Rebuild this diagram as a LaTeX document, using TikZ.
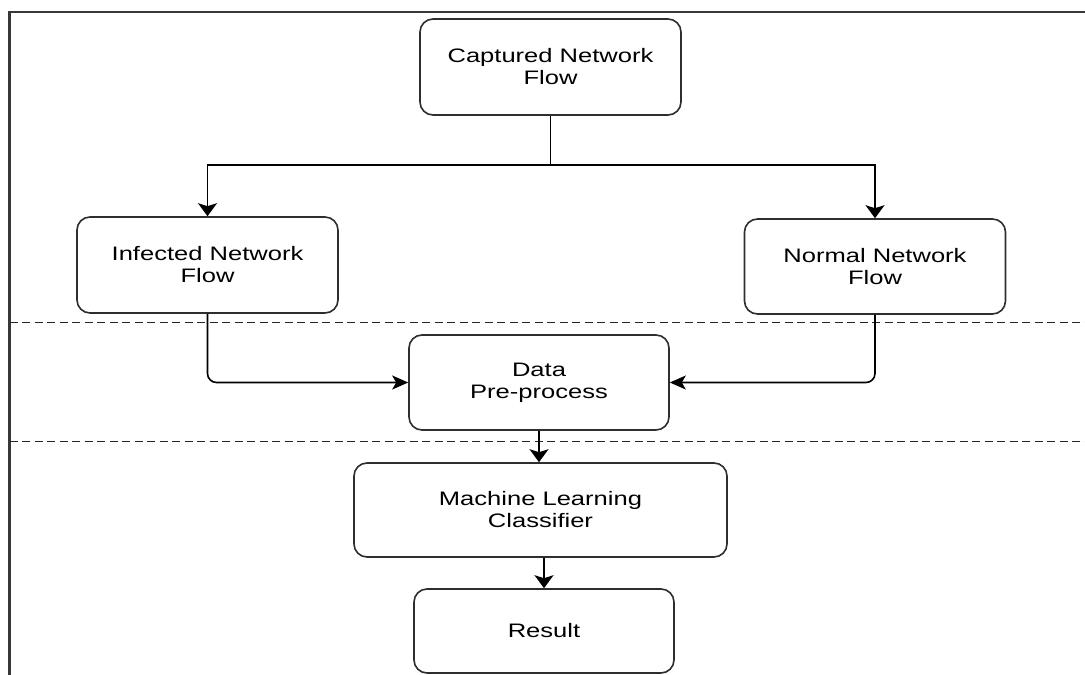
\documentclass[tikz,border=0pt]{standalone}
\usepackage{fontspec}
\setmainfont{Liberation Sans}[FakeStretch=1.31]
\usetikzlibrary{arrows.meta}

\tikzset{
  flowbox/.style={draw=black!82, line width=1.6pt, rounded corners=13pt,
    fill=white, text=black, align=center,
    font=\fontsize{19.5pt}{22pt}\selectfont, inner sep=0pt},
  link/.style={draw=black, line width=1.6pt},
  varr/.style={link, -{Stealth[length=13pt,width=19pt,inset=3pt]}},
  harr/.style={link, -{Stealth[length=16pt,width=14pt,inset=4pt]}},
  divider/.style={draw=black!85, line width=1.3pt, dash pattern=on 8pt off 4.5pt},
  frame/.style={draw=black!78, line width=2.5pt}
}

\begin{document}
\begin{tikzpicture}[x=1pt, y=-1pt]
  \useasboundingbox (0,0) rectangle (1085,675);

  % outer frame (top and left edges)
  \draw[frame] (1085,12) -- (9.5,12) -- (9.5,675);

  % stage dividers
  \draw[divider] (9.5,322.5) -- (1085,322.5);
  \draw[divider] (9.5,441.5) -- (1085,441.5);

  % process boxes
  \node[flowbox, minimum width=261pt, minimum height=96pt] (cap) at (550.5,67)
    {Captured Network\\Flow};
  \node[flowbox, minimum width=261pt, minimum height=96pt] (inf) at (207.5,265)
    {Infected Network\\Flow};
  \node[flowbox, minimum width=261pt, minimum height=95pt] (nor) at (875,266.5)
    {Normal Network\\Flow};
  \node[flowbox, minimum width=260pt, minimum height=95pt] (data) at (539,382.5)
    {Data\\Pre-process};
  \node[flowbox, minimum width=373pt, minimum height=94pt] (ml) at (540.5,510)
    {Machine Learning\\Classifier};
  \node[flowbox, minimum width=260pt, minimum height=84pt] (res) at (544,631)
    {Result};

  % branch point below the captured flow
  \coordinate (split) at (550.5,165);

  % connectors
  \draw[varr] (cap.south) -- (split) -| (inf.north);
  \draw[varr] (split) -| (nor.north);
  \draw[harr, rounded corners=9pt] (inf.south) |- (data.west);
  \draw[harr, rounded corners=9pt] (nor.south) |- (data.east);
  \draw[varr] (data.south) -- (data.south |- ml.north);
  \draw[varr] (res.north |- ml.south) -- (res.north);
\end{tikzpicture}
\end{document}
